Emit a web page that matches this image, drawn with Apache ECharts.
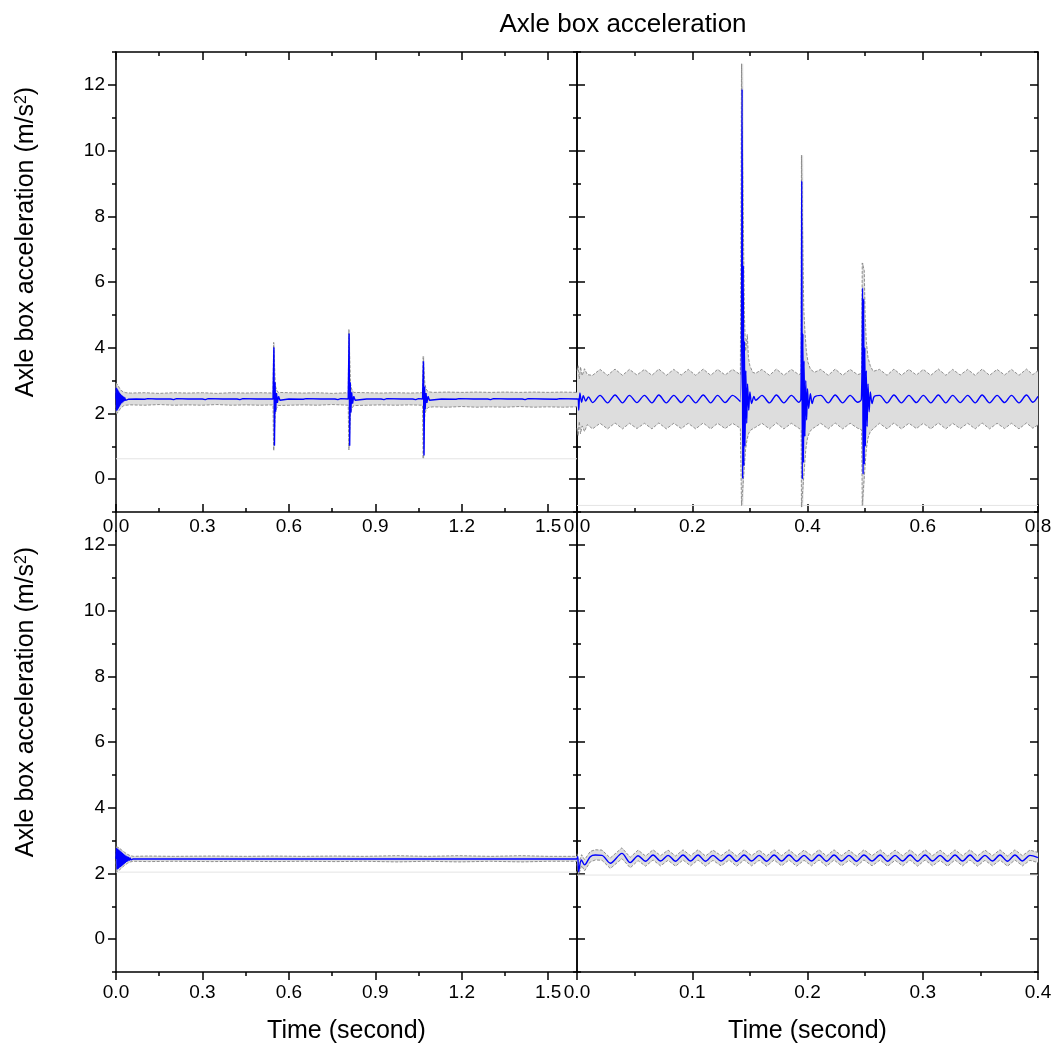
<!DOCTYPE html>
<html><head><meta charset="utf-8">
<script src="https://cdn.jsdelivr.net/npm/echarts@6/dist/echarts.min.js"></script>
<style>html,body{margin:0;padding:0;background:#fff}#c{width:1059px;height:1055px}</style>
</head><body><div id="c"></div>
<script>
// ---------- tick values / labels ----------
const yMajor = [0, 2, 4, 6, 8, 10, 12];
const yMinor = [-1, 1, 3, 5, 7, 9, 11, 13];
const xMajorLong = [0, 0.3, 0.6, 0.9, 1.2, 1.5];
const xMinorLong = [0.15, 0.45, 0.75, 1.05, 1.35];
const xMajorB = [0, 0.2, 0.4, 0.6, 0.8];
const xMinorB = [0.1, 0.3, 0.5, 0.7];
const xMajorD = [0, 0.1, 0.2, 0.3, 0.4];
const xMinorD = [0.05, 0.15, 0.25, 0.35];

// ---------- panel A (top-left) ----------
const aMean = [[0,2.44],[0.001,2.78],[0.002,2.08],[0.003,2.76],[0.004,2.10],[0.005,2.73],[0.006,2.13],[0.007,2.70],[0.008,2.16],[0.009,2.67],[0.010,2.19],[0.011,2.64],[0.012,2.22],[0.013,2.61],[0.014,2.25],[0.015,2.59],[0.016,2.28],[0.018,2.57],[0.020,2.31],[0.022,2.54],[0.024,2.34],[0.026,2.51],[0.028,2.37],[0.030,2.49],[0.033,2.40],[0.037,2.46],[0.042,2.43],
[0.07,2.44],[0.10,2.43],[0.11,2.45],[0.14,2.44],[0.19,2.44],[0.20,2.42],[0.21,2.45],[0.25,2.44],[0.30,2.44],[0.31,2.42],[0.32,2.45],[0.37,2.44],[0.42,2.44],[0.43,2.42],[0.44,2.45],[0.49,2.44],[0.545,2.44],
[0.548,4.01],[0.550,1.02],[0.552,2.95],[0.554,2.05],[0.557,2.62],[0.560,2.32],[0.564,2.52],[0.569,2.40],[0.575,2.45],[0.60,2.44],[0.65,2.43],[0.66,2.45],[0.71,2.44],[0.76,2.44],[0.77,2.42],[0.78,2.45],[0.806,2.44],
[0.809,4.43],[0.811,1.02],[0.813,2.95],[0.815,2.02],[0.818,2.64],[0.821,2.30],[0.825,2.52],[0.830,2.40],[0.836,2.45],[0.87,2.44],[0.92,2.44],[0.93,2.42],[0.94,2.45],[0.99,2.44],[1.03,2.44],[1.04,2.42],[1.05,2.45],[1.064,2.44],
[1.067,3.59],[1.069,0.72],[1.071,2.82],[1.073,2.12],[1.076,2.62],[1.079,2.32],[1.083,2.52],[1.088,2.40],[1.094,2.45],[1.13,2.44],[1.18,2.43],[1.19,2.45],[1.24,2.44],[1.29,2.44],[1.30,2.42],[1.31,2.45],[1.36,2.44],[1.41,2.44],[1.42,2.42],[1.43,2.45],[1.48,2.44],[1.53,2.43],[1.54,2.45],[1.6,2.44]];
const aHi = [[0,2.62],[0.001,2.92],[0.004,2.90],[0.008,2.84],[0.012,2.77],[0.016,2.72],[0.020,2.68],[0.026,2.65],[0.034,2.63],[0.05,2.62],[0.10,2.63],[0.15,2.61],[0.20,2.63],[0.25,2.62],[0.30,2.63],[0.35,2.61],[0.40,2.63],[0.45,2.62],[0.50,2.63],[0.545,2.62],[0.547,4.16],[0.551,4.16],[0.553,2.85],[0.557,2.72],[0.563,2.64],[0.60,2.63],[0.65,2.62],[0.70,2.63],[0.75,2.61],[0.806,2.63],[0.808,4.55],[0.812,4.55],[0.814,2.90],[0.818,2.74],[0.825,2.64],[0.87,2.63],[0.92,2.62],[0.97,2.63],[1.02,2.62],[1.064,2.63],[1.066,3.74],[1.070,3.74],[1.072,2.90],[1.076,2.75],[1.083,2.66],[1.10,2.64],[1.15,2.65],[1.20,2.64],[1.25,2.65],[1.30,2.64],[1.35,2.65],[1.40,2.64],[1.45,2.65],[1.50,2.64],[1.55,2.65],[1.6,2.64]];
const aLo = [[0,2.26],[0.001,1.98],[0.004,2.00],[0.008,2.05],[0.012,2.11],[0.016,2.16],[0.020,2.20],[0.026,2.23],[0.034,2.25],[0.05,2.26],[0.10,2.25],[0.15,2.27],[0.20,2.25],[0.25,2.26],[0.30,2.25],[0.35,2.27],[0.40,2.25],[0.45,2.26],[0.50,2.25],[0.545,2.26],[0.547,0.87],[0.551,0.87],[0.553,2.02],[0.557,2.15],[0.563,2.24],[0.60,2.25],[0.65,2.26],[0.70,2.25],[0.75,2.27],[0.806,2.25],[0.808,0.89],[0.812,0.89],[0.814,1.98],[0.818,2.13],[0.825,2.24],[0.87,2.25],[0.92,2.26],[0.97,2.25],[1.02,2.26],[1.064,2.25],[1.066,0.62],[1.070,0.62],[1.072,1.98],[1.076,2.10],[1.083,2.18],[1.10,2.20],[1.15,2.19],[1.20,2.21],[1.25,2.19],[1.30,2.20],[1.35,2.19],[1.40,2.21],[1.45,2.19],[1.50,2.20],[1.55,2.19],[1.6,2.20]];
const aBase = 0.62;

// ---------- panel B (top-right) ----------
const bMean = [[0,2.43],[0.002,2.45],[0.003,2.10],[0.005,2.62],[0.008,2.34],[0.011,2.54],[0.015,2.38],[0.020,2.50],[0.027,2.33],
[0.040,2.55],[0.053,2.32],[0.066,2.56],[0.079,2.32],[0.091,2.55],[0.104,2.33],[0.117,2.55],[0.130,2.32],[0.142,2.56],[0.155,2.32],[0.168,2.55],[0.181,2.33],[0.193,2.55],[0.206,2.32],[0.219,2.56],[0.232,2.32],[0.244,2.55],[0.257,2.33],[0.270,2.55],[0.2835,2.36],
[0.2865,11.87],[0.2875,0.01],[0.2885,6.5],[0.2895,0.4],[0.2905,4.2],[0.2915,1.0],[0.293,3.3],[0.2945,1.7],[0.296,2.9],[0.298,2.1],[0.300,2.65],[0.303,2.30],[0.307,2.52],
[0.310,2.40],[0.321,2.55],[0.334,2.32],[0.346,2.56],[0.359,2.32],[0.372,2.55],[0.385,2.34],[0.3885,2.43],
[0.3900,9.08],[0.3910,0.00],[0.3920,4.43],[0.3930,0.5],[0.3940,3.6],[0.3955,1.3],[0.397,3.0],[0.3985,1.8],[0.400,2.75],[0.402,2.15],[0.405,2.6],[0.408,2.3],[0.412,2.5],
[0.423,2.55],[0.436,2.32],[0.448,2.56],[0.461,2.32],[0.474,2.55],[0.487,2.34],[0.4935,2.43],
[0.4955,5.82],[0.4965,0.15],[0.4975,5.49],[0.4985,0.45],[0.4995,4.0],[0.5005,1.0],[0.502,3.3],[0.5035,1.6],[0.505,2.9],[0.507,2.05],[0.509,2.65],[0.512,2.3],[0.516,2.52],
[0.525,2.55],[0.538,2.32],[0.550,2.56],[0.563,2.32],[0.576,2.55],[0.589,2.33],[0.601,2.55],[0.614,2.32],[0.627,2.56],[0.640,2.32],[0.652,2.55],[0.665,2.33],[0.678,2.55],[0.691,2.32],[0.703,2.56],[0.716,2.32],[0.729,2.55],[0.742,2.33],[0.754,2.55],[0.767,2.32],[0.780,2.56],[0.791,2.34],[0.8,2.52]];
const bHi = [[0,3.30],[0.002,3.45],[0.004,3.05],[0.006,3.42],[0.009,3.15],[0.013,3.36],[0.018,3.18],[0.027,3.16],
[0.040,3.34],[0.053,3.16],[0.066,3.35],[0.079,3.16],[0.091,3.34],[0.104,3.17],[0.117,3.34],[0.130,3.16],[0.142,3.35],[0.155,3.16],[0.168,3.34],[0.181,3.17],[0.193,3.34],[0.206,3.16],[0.219,3.35],[0.232,3.16],[0.244,3.34],[0.257,3.17],[0.270,3.34],[0.2835,3.18],
[0.2855,12.64],[0.2885,12.64],[0.2905,5.0],[0.2925,3.9],[0.2955,4.4],[0.2975,3.7],[0.300,3.45],[0.305,3.25],[0.310,3.22],
[0.321,3.34],[0.334,3.16],[0.346,3.35],[0.359,3.16],[0.372,3.34],[0.385,3.18],[0.389,3.22],
[0.3895,9.86],[0.3925,9.86],[0.3935,5.2],[0.3955,4.5],[0.398,3.9],[0.401,3.55],[0.405,3.35],[0.412,3.25],
[0.423,3.34],[0.436,3.16],[0.448,3.35],[0.461,3.16],[0.474,3.34],[0.487,3.18],[0.494,3.22],
[0.495,6.58],[0.4975,6.58],[0.4985,6.35],[0.500,5.0],[0.502,4.2],[0.505,3.7],[0.509,3.45],[0.514,3.28],
[0.525,3.34],[0.538,3.16],[0.550,3.35],[0.563,3.16],[0.576,3.34],[0.589,3.17],[0.601,3.34],[0.614,3.16],[0.627,3.35],[0.640,3.16],[0.652,3.34],[0.665,3.17],[0.678,3.34],[0.691,3.16],[0.703,3.35],[0.716,3.16],[0.729,3.34],[0.742,3.17],[0.754,3.34],[0.767,3.16],[0.780,3.35],[0.791,3.18],[0.8,3.30]];
const bLo = [[0,1.55],[0.002,1.32],[0.004,1.75],[0.006,1.38],[0.009,1.62],[0.013,1.45],[0.018,1.66],[0.027,1.53],
[0.040,1.70],[0.053,1.53],[0.066,1.71],[0.079,1.53],[0.091,1.70],[0.104,1.54],[0.117,1.70],[0.130,1.53],[0.142,1.71],[0.155,1.53],[0.168,1.70],[0.181,1.54],[0.193,1.70],[0.206,1.53],[0.219,1.71],[0.232,1.53],[0.244,1.70],[0.257,1.54],[0.270,1.70],[0.2835,1.55],
[0.2855,-0.8],[0.2885,-0.8],[0.2905,0.4],[0.2925,0.9],[0.295,1.2],[0.298,1.4],[0.302,1.5],[0.310,1.58],
[0.321,1.70],[0.334,1.53],[0.346,1.71],[0.359,1.53],[0.372,1.70],[0.385,1.55],[0.389,1.50],
[0.3895,-0.85],[0.3925,-0.85],[0.3945,0.3],[0.397,0.9],[0.400,1.25],[0.404,1.45],[0.410,1.55],
[0.423,1.70],[0.436,1.53],[0.448,1.71],[0.461,1.53],[0.474,1.70],[0.487,1.55],[0.494,1.50],
[0.495,-0.8],[0.4975,-0.8],[0.4995,0.3],[0.502,0.9],[0.505,1.25],[0.509,1.45],[0.515,1.55],
[0.525,1.70],[0.538,1.53],[0.550,1.71],[0.563,1.53],[0.576,1.70],[0.589,1.54],[0.601,1.70],[0.614,1.53],[0.627,1.71],[0.640,1.53],[0.652,1.70],[0.665,1.54],[0.678,1.70],[0.691,1.53],[0.703,1.71],[0.716,1.53],[0.729,1.70],[0.742,1.54],[0.754,1.70],[0.767,1.53],[0.780,1.71],[0.791,1.55],[0.8,1.65]];
const bBase = -0.8;

// ---------- panel C (bottom-left) ----------
const cMean = [[0,2.44],[0.002,2.77],[0.004,2.12],[0.006,2.75],[0.008,2.14],[0.010,2.72],[0.012,2.17],[0.014,2.69],[0.016,2.20],[0.018,2.66],[0.020,2.23],[0.022,2.63],[0.024,2.26],[0.026,2.60],[0.028,2.29],[0.030,2.57],[0.032,2.32],[0.034,2.54],[0.036,2.35],[0.038,2.52],[0.040,2.37],[0.043,2.50],[0.046,2.39],[0.049,2.48],[0.052,2.41],[0.056,2.46],[0.060,2.44],
[0.113,2.44],[0.116,2.41],[0.119,2.47],[0.125,2.44],[0.224,2.44],[0.227,2.41],[0.230,2.47],[0.236,2.44],[0.333,2.44],[0.336,2.41],[0.339,2.47],[0.345,2.44],[0.437,2.44],[0.440,2.41],[0.443,2.47],[0.449,2.44],[0.547,2.44],[0.550,2.41],[0.553,2.47],[0.559,2.44],[0.657,2.44],[0.660,2.41],[0.663,2.47],[0.669,2.44],[0.761,2.44],[0.764,2.41],[0.767,2.47],[0.773,2.44],[0.865,2.44],[0.868,2.41],[0.871,2.47],[0.877,2.44],[0.975,2.44],[0.978,2.41],[0.981,2.47],[0.987,2.44],[1.085,2.44],[1.088,2.41],[1.091,2.47],[1.097,2.44],[1.189,2.44],[1.192,2.41],[1.195,2.47],[1.201,2.44],[1.299,2.44],[1.302,2.41],[1.305,2.47],[1.311,2.44],[1.409,2.44],[1.412,2.41],[1.415,2.47],[1.421,2.44],[1.519,2.44],[1.522,2.41],[1.525,2.47],[1.531,2.44],[1.6,2.44]];
const cHi = [[0,2.52],[0.002,2.81],[0.010,2.78],[0.020,2.71],[0.030,2.64],[0.040,2.58],[0.050,2.54],[0.060,2.52],[0.113,2.53],[0.20,2.52],[0.333,2.53],[0.45,2.52],[0.547,2.53],[0.65,2.52],[0.761,2.53],[0.86,2.52],[0.975,2.54],[1.08,2.52],[1.189,2.54],[1.30,2.52],[1.409,2.54],[1.50,2.52],[1.6,2.52]];
const cLo = [[0,2.37],[0.002,2.05],[0.010,2.09],[0.020,2.17],[0.030,2.25],[0.040,2.31],[0.050,2.35],[0.060,2.37],[0.113,2.36],[0.20,2.37],[0.333,2.36],[0.45,2.37],[0.547,2.36],[0.65,2.37],[0.761,2.36],[0.86,2.37],[0.975,2.35],[1.08,2.37],[1.189,2.35],[1.30,2.37],[1.409,2.35],[1.50,2.37],[1.6,2.37]];
const cBase = 2.04;

// ---------- panel D (bottom-right) ----------
const dMean = [[0,2.44],[0.0007,2.52],[0.0014,2.05],[0.0037,2.41],[0.0066,2.26],[0.0115,2.51],[0.0159,2.56],[0.0217,2.55],[0.0289,2.31],[0.0390,2.61],[0.0462,2.33],
[0.053,2.54],[0.0595,2.37],[0.066,2.56],[0.0725,2.38],[0.079,2.55],[0.0855,2.37],[0.092,2.56],[0.0985,2.38],[0.105,2.56],[0.1115,2.37],[0.118,2.55],[0.125,2.38],[0.132,2.56],[0.1385,2.37],[0.145,2.56],[0.1515,2.38],[0.158,2.55],[0.1645,2.37],[0.171,2.56],[0.1775,2.38],[0.184,2.56],[0.1905,2.37],[0.197,2.55],[0.2035,2.38],[0.210,2.56],[0.2165,2.37],[0.223,2.56],[0.2295,2.38],[0.236,2.55],[0.2425,2.37],[0.249,2.56],[0.256,2.38],[0.263,2.56],[0.2695,2.37],[0.276,2.55],[0.2825,2.38],[0.289,2.56],[0.2955,2.37],[0.302,2.56],[0.3085,2.38],[0.315,2.55],[0.3215,2.37],[0.328,2.56],[0.3345,2.38],[0.341,2.56],[0.3475,2.37],[0.354,2.55],[0.3605,2.38],[0.367,2.56],[0.3735,2.37],[0.380,2.56],[0.3865,2.38],[0.393,2.55],[0.4,2.48]];
const dHi = [[0,2.60],[0.0014,2.30],[0.0040,2.57],[0.0066,2.42],[0.0115,2.67],[0.0159,2.72],[0.0217,2.71],[0.0289,2.47],[0.0390,2.78],[0.0462,2.49],
[0.053,2.71],[0.0595,2.53],[0.066,2.72],[0.0725,2.54],[0.079,2.71],[0.0855,2.53],[0.092,2.72],[0.0985,2.54],[0.105,2.72],[0.1115,2.53],[0.118,2.71],[0.125,2.54],[0.132,2.72],[0.1385,2.53],[0.145,2.72],[0.1515,2.54],[0.158,2.71],[0.1645,2.53],[0.171,2.72],[0.1775,2.54],[0.184,2.72],[0.1905,2.53],[0.197,2.71],[0.2035,2.54],[0.210,2.72],[0.2165,2.53],[0.223,2.72],[0.2295,2.54],[0.236,2.71],[0.2425,2.53],[0.249,2.72],[0.256,2.54],[0.263,2.72],[0.2695,2.53],[0.276,2.71],[0.2825,2.54],[0.289,2.72],[0.2955,2.53],[0.302,2.72],[0.3085,2.54],[0.315,2.71],[0.3215,2.53],[0.328,2.72],[0.3345,2.54],[0.341,2.72],[0.3475,2.53],[0.354,2.71],[0.3605,2.54],[0.367,2.72],[0.3735,2.53],[0.380,2.72],[0.3865,2.54],[0.393,2.71],[0.4,2.64]];
const dLo = [[0,2.29],[0.0014,1.95],[0.0040,2.24],[0.0066,2.08],[0.0115,2.35],[0.0159,2.41],[0.0217,2.40],[0.0289,2.15],[0.0390,2.45],[0.0462,2.17],
[0.053,2.39],[0.0595,2.22],[0.066,2.41],[0.0725,2.23],[0.079,2.40],[0.0855,2.22],[0.092,2.41],[0.0985,2.23],[0.105,2.41],[0.1115,2.22],[0.118,2.40],[0.125,2.23],[0.132,2.41],[0.1385,2.22],[0.145,2.41],[0.1515,2.23],[0.158,2.40],[0.1645,2.22],[0.171,2.41],[0.1775,2.23],[0.184,2.41],[0.1905,2.22],[0.197,2.40],[0.2035,2.23],[0.210,2.41],[0.2165,2.22],[0.223,2.41],[0.2295,2.23],[0.236,2.40],[0.2425,2.22],[0.249,2.41],[0.256,2.23],[0.263,2.41],[0.2695,2.22],[0.276,2.40],[0.2825,2.23],[0.289,2.41],[0.2955,2.22],[0.302,2.41],[0.3085,2.23],[0.315,2.40],[0.3215,2.22],[0.328,2.41],[0.3345,2.23],[0.341,2.41],[0.3475,2.22],[0.354,2.40],[0.3605,2.23],[0.367,2.41],[0.3735,2.22],[0.380,2.41],[0.3865,2.23],[0.393,2.40],[0.4,2.33]];
const dBase = 1.95;

const titleText = 'Axle box acceleration';
const yName = 'Axle box acceleration (m/s{sup|2})';
const xName = 'Time (second)';

// ---------- build ----------
const FONT = 'Liberation Sans';
const AX = '#000';
const TICK_FS = 19;
const NAME_FS = 25;
const panels = [
  {grid:{left:116, top:52, width:461, height:460}, xMax:1.6, maj:xMajorLong, min:xMinorLong, top:true,  left:true,  mean:aMean, hi:aHi, lo:aLo, base:aBase, smooth:false},
  {grid:{left:577, top:52, width:461, height:460}, xMax:0.8, maj:xMajorB,    min:xMinorB,    top:true,  left:false, mean:bMean, hi:bHi, lo:bLo, base:bBase, smooth:0.3},
  {grid:{left:116, top:512, width:461, height:460}, xMax:1.6, maj:xMajorLong, min:xMinorLong, top:false, left:true,  mean:cMean, hi:cHi, lo:cLo, base:cBase, smooth:false},
  {grid:{left:577, top:512, width:461, height:460}, xMax:0.4, maj:xMajorD,    min:xMinorD,    top:false, left:false, mean:dMean, hi:dHi, lo:dLo, base:dBase, smooth:0.3}
];

const grid = [], xAxis = [], yAxis = [], series = [];
const lineSt = {color: AX, width: 1.5};

function axis(base, opts) {
  return Object.assign({
    type: 'value', splitLine: {show: false}, axisPointer: {show: false}
  }, base, opts);
}

panels.forEach((p, g) => {
  grid.push(p.grid);
  const xMainIdx = xAxis.length;
  xAxis.push(axis({gridIndex: g, min: 0, max: p.xMax, position: 'bottom'}, {
    axisLine: {show: true, onZero: false, lineStyle: lineSt},
    axisTick: {show: true, inside: p.top, length: 8, customValues: p.maj, lineStyle: lineSt},
    axisLabel: {show: true, customValues: p.maj, formatter: v => v.toFixed(1), fontSize: TICK_FS, color: '#000', fontFamily: FONT, margin: p.top ? 5 : 11},
    name: p.top ? '' : xName, nameLocation: 'middle', nameGap: 47,
    nameTextStyle: {fontSize: NAME_FS, color: '#000', fontFamily: FONT}
  }));
  xAxis.push(axis({gridIndex: g, min: 0, max: p.xMax, position: 'bottom'}, {
    axisLine: {show: false, onZero: false},
    axisTick: {show: true, inside: p.top, length: 4, customValues: p.min, lineStyle: lineSt},
    axisLabel: {show: false}
  }));
  if (p.top) {
    xAxis.push(axis({gridIndex: g, min: 0, max: p.xMax, position: 'top'}, {
      axisLine: {show: true, onZero: false, lineStyle: lineSt},
      axisTick: {show: true, inside: true, length: 8, customValues: p.maj, lineStyle: lineSt},
      axisLabel: {show: false}
    }));
    xAxis.push(axis({gridIndex: g, min: 0, max: p.xMax, position: 'top'}, {
      axisLine: {show: false, onZero: false},
      axisTick: {show: true, inside: true, length: 4, customValues: p.min, lineStyle: lineSt},
      axisLabel: {show: false}
    }));
  }
  const yMainIdx = yAxis.length;
  yAxis.push(axis({gridIndex: g, min: -1, max: 13, position: 'left'}, {
    axisLine: {show: true, onZero: false, lineStyle: lineSt},
    axisTick: {show: true, inside: !p.left, length: 8, customValues: yMajor, lineStyle: lineSt},
    axisLabel: {show: p.left, customValues: yMajor, fontSize: TICK_FS, color: '#000', fontFamily: FONT, margin: 11},
    name: p.left ? yName : '', nameLocation: 'middle', nameGap: 77, nameRotate: 90,
    nameTextStyle: {fontSize: NAME_FS, color: '#000', fontFamily: FONT, padding: [0, 0, 0, 80],
      rich: {sup: {fontSize: 16, verticalAlign: 'top', fontFamily: FONT, color: '#000', padding: [0, 0, 8, 0]}}}
  }));
  yAxis.push(axis({gridIndex: g, min: -1, max: 13, position: 'left'}, {
    axisLine: {show: false, onZero: false},
    axisTick: {show: true, inside: !p.left, length: 4, customValues: yMinor, lineStyle: lineSt},
    axisLabel: {show: false}
  }));
  yAxis.push(axis({gridIndex: g, min: -1, max: 13, position: 'right'}, {
    axisLine: {show: true, onZero: false, lineStyle: lineSt},
    axisTick: {show: true, inside: true, length: 8, customValues: yMajor, lineStyle: lineSt},
    axisLabel: {show: false}
  }));
  yAxis.push(axis({gridIndex: g, min: -1, max: 13, position: 'right'}, {
    axisLine: {show: false, onZero: false},
    axisTick: {show: true, inside: true, length: 4, customValues: yMinor, lineStyle: lineSt},
    axisLabel: {show: false}
  }));

  const ax = {xAxisIndex: xMainIdx, yAxisIndex: yMainIdx};
  series.push(Object.assign({
    type: 'line', data: [[0, p.base], [p.xMax, p.base]], symbol: 'none', silent: true,
    lineStyle: {color: '#e4e4e4', width: 1}, z: 1
  }, ax));
  const hi = p.hi, lo = p.lo;
  series.push(Object.assign({
    type: 'custom', data: [[0, 0]], silent: true, clip: true, z: 2,
    renderItem: function (params, api) {
      if (params.dataIndex !== 0) return;
      const pts = [];
      hi.forEach(d => pts.push(api.coord(d)));
      for (let i = lo.length - 1; i >= 0; i--) pts.push(api.coord(lo[i]));
      return {type: 'polygon', shape: {points: pts}, style: {fill: '#dddddd', stroke: null}};
    }
  }, ax));
  [hi, lo].forEach(edge => series.push(Object.assign({
    type: 'line', data: edge, symbol: 'none', silent: true, z: 3,
    lineStyle: {color: '#858585', width: 0.9, type: [3, 1.5]}
  }, ax)));
  series.push(Object.assign({
    type: 'line', data: p.mean, symbol: 'none', silent: true, z: 4, smooth: p.smooth,
    lineStyle: {color: '#0000ff', width: 1.4}
  }, ax));
});

const chart = echarts.init(document.getElementById('c'), null, {renderer: 'canvas'});
chart.setOption({
  animation: false,
  backgroundColor: '#fff',
  title: {text: titleText, left: 618, top: 7, textAlign: 'center',
    textStyle: {fontSize: 26, fontWeight: 'normal', color: '#000', fontFamily: FONT}},
  grid, xAxis, yAxis, series
});
</script></body></html>
